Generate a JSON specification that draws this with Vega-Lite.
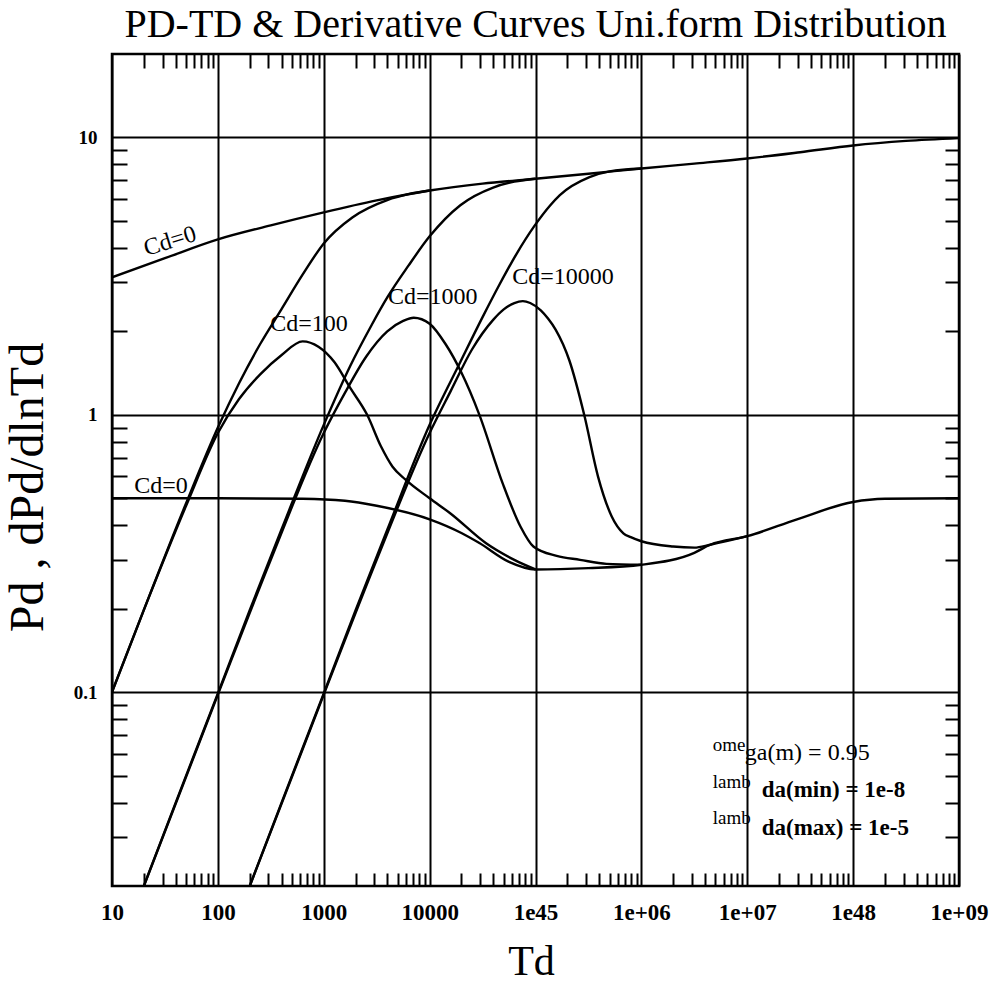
{
  "$schema": "https://vega.github.io/schema/vega-lite/v6.json",
  "width": 847,
  "height": 832,
  "autosize": {"type": "none"},
  "padding": {"left": 112, "top": 54, "right": 33, "bottom": 99},
  "background": "white",
  "config": {
    "view": {"stroke": "black", "strokeWidth": 2.5},
    "font": "Liberation Serif"
  },
  "title": {
    "text": "PD-TD & Derivative Curves  Uni.form Distribution",
    "font": "Liberation Serif",
    "fontSize": 40,
    "fontWeight": "normal",
    "color": "black",
    "anchor": "middle",
    "baseline": "alphabetic",
    "offset": 14,
    "dy": 38
  },
  "datasets": {
    "curves": [
      {"s": "Pd0", "td": 10, "v": 3.13}, {"s": "Pd0", "td": 31.6, "v": 3.67}, {"s": "Pd0", "td": 100, "v": 4.29}, {"s": "Pd0", "td": 316, "v": 4.82}, {"s": "Pd0", "td": 1000, "v": 5.37}, {"s": "Pd0", "td": 3162, "v": 5.93}, {"s": "Pd0", "td": 10000, "v": 6.44}, {"s": "Pd0", "td": 31623, "v": 6.82}, {"s": "Pd0", "td": 100000, "v": 7.1}, {"s": "Pd0", "td": 316228, "v": 7.4}, {"s": "Pd0", "td": 1000000, "v": 7.73}, {"s": "Pd0", "td": 3162278, "v": 8.05}, {"s": "Pd0", "td": 10000000, "v": 8.4}, {"s": "Pd0", "td": 31622777, "v": 8.85}, {"s": "Pd0", "td": 100000000, "v": 9.36}, {"s": "Pd0", "td": 316227766, "v": 9.72}, {"s": "Pd0", "td": 1000000000, "v": 9.95},

      {"s": "Pd100", "td": 10, "v": 0.1}, {"s": "Pd100", "td": 20, "v": 0.198}, {"s": "Pd100", "td": 50.1, "v": 0.48}, {"s": "Pd100", "td": 100, "v": 0.9}, {"s": "Pd100", "td": 158.5, "v": 1.3}, {"s": "Pd100", "td": 251, "v": 1.8}, {"s": "Pd100", "td": 398, "v": 2.4}, {"s": "Pd100", "td": 631, "v": 3.2}, {"s": "Pd100", "td": 1000, "v": 4.15}, {"s": "Pd100", "td": 1862, "v": 5.15}, {"s": "Pd100", "td": 3981, "v": 5.95}, {"s": "Pd100", "td": 6310, "v": 6.25}, {"s": "Pd100", "td": 10000, "v": 6.44},

      {"s": "Pd1000", "td": 20, "v": 0.02}, {"s": "Pd1000", "td": 39.8, "v": 0.0398}, {"s": "Pd1000", "td": 100, "v": 0.099}, {"s": "Pd1000", "td": 199.5, "v": 0.197}, {"s": "Pd1000", "td": 398, "v": 0.385}, {"s": "Pd1000", "td": 1000, "v": 0.92}, {"s": "Pd1000", "td": 1778, "v": 1.5}, {"s": "Pd1000", "td": 2818, "v": 2.1}, {"s": "Pd1000", "td": 3981, "v": 2.65}, {"s": "Pd1000", "td": 6310, "v": 3.45}, {"s": "Pd1000", "td": 10000, "v": 4.4}, {"s": "Pd1000", "td": 19498, "v": 5.7}, {"s": "Pd1000", "td": 39811, "v": 6.6}, {"s": "Pd1000", "td": 63096, "v": 6.93}, {"s": "Pd1000", "td": 100000, "v": 7.1},

      {"s": "Pd10000", "td": 200, "v": 0.02}, {"s": "Pd10000", "td": 398, "v": 0.0398}, {"s": "Pd10000", "td": 1000, "v": 0.099}, {"s": "Pd10000", "td": 1995, "v": 0.197}, {"s": "Pd10000", "td": 3981, "v": 0.385}, {"s": "Pd10000", "td": 10000, "v": 0.92}, {"s": "Pd10000", "td": 19498, "v": 1.55}, {"s": "Pd10000", "td": 31623, "v": 2.25}, {"s": "Pd10000", "td": 45709, "v": 2.95}, {"s": "Pd10000", "td": 66069, "v": 3.8}, {"s": "Pd10000", "td": 97724, "v": 4.8}, {"s": "Pd10000", "td": 138038, "v": 5.7}, {"s": "Pd10000", "td": 169824, "v": 6.2}, {"s": "Pd10000", "td": 323594, "v": 7.2}, {"s": "Pd10000", "td": 501187, "v": 7.55}, {"s": "Pd10000", "td": 1000000, "v": 7.73},

      {"s": "D0", "td": 10, "v": 0.5}, {"s": "D0", "td": 100, "v": 0.5}, {"s": "D0", "td": 631, "v": 0.498}, {"s": "D0", "td": 1585, "v": 0.49}, {"s": "D0", "td": 3162, "v": 0.47}, {"s": "D0", "td": 10000, "v": 0.42}, {"s": "D0", "td": 19953, "v": 0.375}, {"s": "D0", "td": 29512, "v": 0.345}, {"s": "D0", "td": 56234, "v": 0.295}, {"s": "D0", "td": 100000, "v": 0.277}, {"s": "D0", "td": 316228, "v": 0.28}, {"s": "D0", "td": 1000000, "v": 0.288}, {"s": "D0", "td": 3162278, "v": 0.318}, {"s": "D0", "td": 4466836, "v": 0.34}, {"s": "D0", "td": 10000000, "v": 0.365}, {"s": "D0", "td": 29512092, "v": 0.42}, {"s": "D0", "td": 100000000, "v": 0.485}, {"s": "D0", "td": 199526231, "v": 0.498}, {"s": "D0", "td": 1000000000, "v": 0.5},

      {"s": "D100", "td": 10, "v": 0.1}, {"s": "D100", "td": 20, "v": 0.198}, {"s": "D100", "td": 50.1, "v": 0.47}, {"s": "D100", "td": 100, "v": 0.86}, {"s": "D100", "td": 158.5, "v": 1.14}, {"s": "D100", "td": 251, "v": 1.4}, {"s": "D100", "td": 398, "v": 1.64}, {"s": "D100", "td": 631, "v": 1.84}, {"s": "D100", "td": 891, "v": 1.76}, {"s": "D100", "td": 1259, "v": 1.55}, {"s": "D100", "td": 1778, "v": 1.25}, {"s": "D100", "td": 2570, "v": 1.0}, {"s": "D100", "td": 3467, "v": 0.77}, {"s": "D100", "td": 4467, "v": 0.65}, {"s": "D100", "td": 5888, "v": 0.585}, {"s": "D100", "td": 10000, "v": 0.5}, {"s": "D100", "td": 15849, "v": 0.44}, {"s": "D100", "td": 33884, "v": 0.345}, {"s": "D100", "td": 63096, "v": 0.3}, {"s": "D100", "td": 100000, "v": 0.277},

      {"s": "D1000", "td": 20, "v": 0.02}, {"s": "D1000", "td": 100, "v": 0.098}, {"s": "D1000", "td": 316, "v": 0.3}, {"s": "D1000", "td": 1000, "v": 0.86}, {"s": "D1000", "td": 1585, "v": 1.2}, {"s": "D1000", "td": 2512, "v": 1.62}, {"s": "D1000", "td": 3981, "v": 2.0}, {"s": "D1000", "td": 5623, "v": 2.18}, {"s": "D1000", "td": 7079, "v": 2.24}, {"s": "D1000", "td": 10000, "v": 2.13}, {"s": "D1000", "td": 14125, "v": 1.8}, {"s": "D1000", "td": 19953, "v": 1.42}, {"s": "D1000", "td": 29512, "v": 1.0}, {"s": "D1000", "td": 48978, "v": 0.566}, {"s": "D1000", "td": 72444, "v": 0.394}, {"s": "D1000", "td": 95499, "v": 0.335}, {"s": "D1000", "td": 158489, "v": 0.31}, {"s": "D1000", "td": 263027, "v": 0.3}, {"s": "D1000", "td": 467735, "v": 0.29}, {"s": "D1000", "td": 1000000, "v": 0.288},

      {"s": "D10000", "td": 200, "v": 0.02}, {"s": "D10000", "td": 1000, "v": 0.098}, {"s": "D10000", "td": 3162, "v": 0.3}, {"s": "D10000", "td": 10000, "v": 0.86}, {"s": "D10000", "td": 15849, "v": 1.22}, {"s": "D10000", "td": 25119, "v": 1.72}, {"s": "D10000", "td": 39811, "v": 2.2}, {"s": "D10000", "td": 50119, "v": 2.4}, {"s": "D10000", "td": 63096, "v": 2.53}, {"s": "D10000", "td": 75858, "v": 2.57}, {"s": "D10000", "td": 89125, "v": 2.53}, {"s": "D10000", "td": 112202, "v": 2.38}, {"s": "D10000", "td": 131826, "v": 2.22}, {"s": "D10000", "td": 154882, "v": 2.03}, {"s": "D10000", "td": 208930, "v": 1.57}, {"s": "D10000", "td": 288403, "v": 1.0}, {"s": "D10000", "td": 389045, "v": 0.6}, {"s": "D10000", "td": 524807, "v": 0.43}, {"s": "D10000", "td": 676083, "v": 0.374}, {"s": "D10000", "td": 794328, "v": 0.362}, {"s": "D10000", "td": 1000000, "v": 0.35}, {"s": "D10000", "td": 1995262, "v": 0.335}, {"s": "D10000", "td": 3162278, "v": 0.332}, {"s": "D10000", "td": 4466836, "v": 0.34}, {"s": "D10000", "td": 10000000, "v": 0.365}
    ],
    "cdlabels": [
      {"t": "Cd=100", "td": 724, "v": 2.12},
      {"t": "Cd=1000", "td": 10700, "v": 2.65},
      {"t": "Cd=10000", "td": 182000, "v": 3.13},
      {"t": "Cd=0", "td": 29, "v": 0.552}
    ],
    "cdrot": [
      {"t": "Cd=0", "td": 35.3, "v": 4.22}
    ],
    "prefix": [
      {"t": "ome", "td": 4730000, "v": 0.0644},
      {"t": "lamb", "td": 4730000, "v": 0.0474},
      {"t": "lamb", "td": 4730000, "v": 0.0352}
    ],
    "line1": [
      {"t": "ga(m) = 0.95", "td": 9480000, "v": 0.0603}
    ],
    "line23": [
      {"t": "da(min) = 1e-8", "td": 13700000, "v": 0.0444},
      {"t": "da(max) = 1e-5", "td": 13700000, "v": 0.0324}
    ]
  },
  "layer": [
    {
      "data": {"name": "curves"},
      "mark": {"type": "line", "color": "black", "strokeWidth": 2.4, "clip": true, "interpolate": "monotone"},
      "encoding": {
        "x": {
          "field": "td", "type": "quantitative",
          "scale": {"type": "log", "domain": [10, 1000000000], "nice": false},
          "axis": {
            "orient": "bottom",
            "values": [10,20,30,40,50,60,70,80,90,100,200,300,400,500,600,700,800,900,1000,2000,3000,4000,5000,6000,7000,8000,9000,10000,20000,30000,40000,50000,60000,70000,80000,90000,100000,200000,300000,400000,500000,600000,700000,800000,900000,1000000,2000000,3000000,4000000,5000000,6000000,7000000,8000000,9000000,10000000,20000000,30000000,40000000,50000000,60000000,70000000,80000000,90000000,100000000,200000000,300000000,400000000,500000000,600000000,700000000,800000000,900000000,1000000000],
            "title": "Td",
            "titleFont": "Liberation Serif", "titleFontSize": 42, "titleFontWeight": "normal", "titleColor": "black",
            "titleX": 419, "titleY": 75, "titleBaseline": "middle", "titleAlign": "center",
            "domain": false,
            "grid": true, "gridColor": "black", "gridWidth": 2,
            "gridOpacity": {"condition": {"test": "abs(log(datum.value)/LN10 - round(log(datum.value)/LN10)) < 0.001", "value": 1}, "value": 0},
            "ticks": true, "tickSize": -13, "tickColor": "black", "tickWidth": 2,
            "tickOpacity": {"condition": {"test": "abs(log(datum.value)/LN10 - round(log(datum.value)/LN10)) < 0.001", "value": 0}, "value": 1},
            "labelExpr": "abs(log(datum.value)/LN10 - round(log(datum.value)/LN10)) > 0.001 ? '' : ['', '10', '100', '1000', '10000', '1e45', '1e+06', '1e+07', '1e48', '1e+09'][round(log(datum.value)/LN10)]",
            "labelFont": "Liberation Serif", "labelFontSize": 23, "labelFontWeight": "bold", "labelColor": "black",
            "labelPadding": 39, "labelBaseline": "middle", "labelFlush": false, "labelOverlap": false, "labelBound": false
          }
        },
        "y": {
          "field": "v", "type": "quantitative",
          "scale": {"type": "log", "domain": [0.02, 20], "nice": false},
          "axis": {
            "orient": "left",
            "values": [0.03,0.04,0.05,0.06,0.07,0.08,0.09,0.1,0.2,0.3,0.4,0.5,0.6,0.7,0.8,0.9,1,2,3,4,5,6,7,8,9,10],
            "title": "Pd , dPd/dlnTd",
            "titleFont": "Liberation Serif", "titleFontSize": 48, "titleFontWeight": "normal", "titleColor": "black",
            "titleX": -84, "titleY": 433, "titleAngle": 270, "titleBaseline": "middle", "titleAlign": "center",
            "domain": false,
            "grid": true, "gridColor": "black", "gridWidth": 2,
            "gridOpacity": {"condition": {"test": "abs(log(datum.value)/LN10 - round(log(datum.value)/LN10)) < 0.001", "value": 1}, "value": 0},
            "ticks": true, "tickSize": -15, "tickColor": "black", "tickWidth": 2,
            "tickOpacity": {"condition": {"test": "abs(log(datum.value)/LN10 - round(log(datum.value)/LN10)) < 0.001", "value": 0}, "value": 1},
            "labelExpr": "abs(log(datum.value)/LN10 - round(log(datum.value)/LN10)) > 0.001 ? '' : (datum.value > 5 ? '10' : (datum.value > 0.5 ? '1' : '0.1'))",
            "labelFont": "Liberation Serif", "labelFontSize": 19, "labelFontWeight": "bold", "labelColor": "black",
            "labelPadding": 30, "labelFlush": false, "labelOverlap": false, "labelBound": false
          }
        },
        "detail": {"field": "s"}
      }
    },
    {
      "data": {"name": "cdlabels"},
      "mark": {"type": "text", "font": "Liberation Serif", "fontSize": 24, "color": "black", "align": "center", "baseline": "middle"},
      "encoding": {
        "x": {
          "field": "td", "type": "quantitative",
          "axis": {
            "orient": "top",
            "values": [20,30,40,50,60,70,80,90,200,300,400,500,600,700,800,900,2000,3000,4000,5000,6000,7000,8000,9000,20000,30000,40000,50000,60000,70000,80000,90000,200000,300000,400000,500000,600000,700000,800000,900000,2000000,3000000,4000000,5000000,6000000,7000000,8000000,9000000,20000000,30000000,40000000,50000000,60000000,70000000,80000000,90000000,200000000,300000000,400000000,500000000,600000000,700000000,800000000,900000000],
            "title": null, "labels": false, "domain": false, "grid": false,
            "ticks": true, "tickSize": -14, "tickColor": "black", "tickWidth": 2
          }
        },
        "y": {
          "field": "v", "type": "quantitative",
          "axis": {
            "orient": "right",
            "values": [0.03,0.04,0.05,0.06,0.07,0.08,0.09,0.2,0.3,0.4,0.5,0.6,0.7,0.8,0.9,2,3,4,5,6,7,8,9],
            "title": null, "labels": false, "domain": false, "grid": false,
            "ticks": true, "tickSize": -14, "tickColor": "black", "tickWidth": 2
          }
        },
        "text": {"field": "t"}
      }
    },
    {
      "data": {"name": "cdrot"},
      "mark": {"type": "text", "font": "Liberation Serif", "fontSize": 24, "color": "black", "align": "center", "baseline": "middle", "angle": 343},
      "encoding": {
        "x": {"field": "td", "type": "quantitative", "axis": null},
        "y": {"field": "v", "type": "quantitative", "axis": null},
        "text": {"field": "t"}
      }
    },
    {
      "data": {"name": "prefix"},
      "mark": {"type": "text", "font": "Liberation Serif", "fontSize": 19, "color": "black", "align": "left", "baseline": "middle"},
      "encoding": {
        "x": {"field": "td", "type": "quantitative", "axis": null},
        "y": {"field": "v", "type": "quantitative", "axis": null},
        "text": {"field": "t"}
      }
    },
    {
      "data": {"name": "line1"},
      "mark": {"type": "text", "font": "Liberation Serif", "fontSize": 24, "color": "black", "align": "left", "baseline": "middle"},
      "encoding": {
        "x": {"field": "td", "type": "quantitative", "axis": null},
        "y": {"field": "v", "type": "quantitative", "axis": null},
        "text": {"field": "t"}
      }
    },
    {
      "data": {"name": "line23"},
      "mark": {"type": "text", "font": "Liberation Serif", "fontSize": 23, "fontWeight": "bold", "color": "black", "align": "left", "baseline": "middle"},
      "encoding": {
        "x": {"field": "td", "type": "quantitative", "axis": null},
        "y": {"field": "v", "type": "quantitative", "axis": null},
        "text": {"field": "t"}
      }
    }
  ],
  "resolve": {"axis": {"x": "independent", "y": "independent"}}
}
